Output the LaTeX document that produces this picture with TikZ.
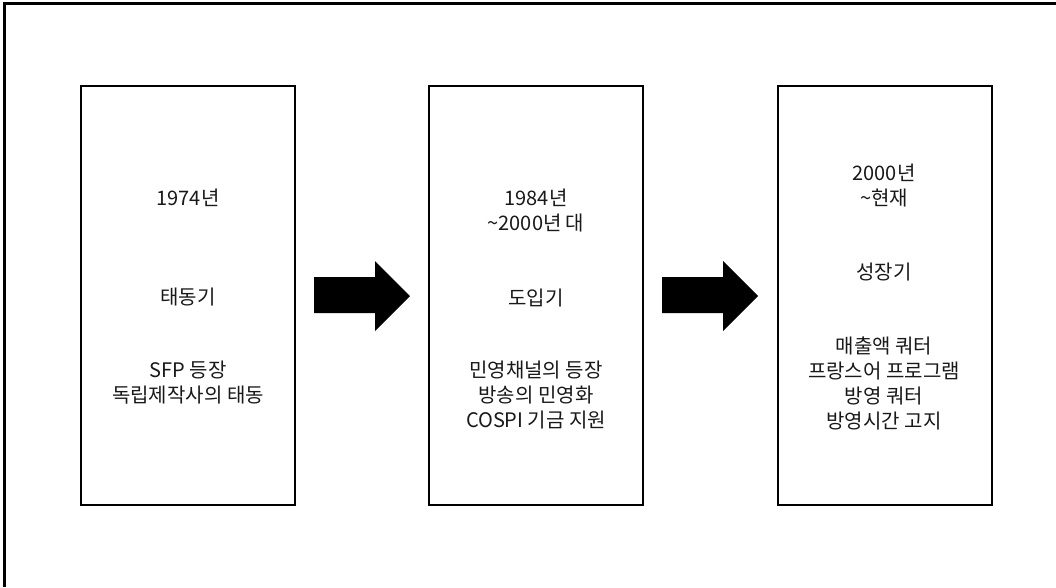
\documentclass[tikz,border=0pt]{standalone}
\usepackage{fontspec}
\setmainfont{Noto Sans CJK KR}
\begin{document}
\begin{tikzpicture}[x=1pt,y=-1pt,
  stage/.style={draw=black,line width=2pt,fill=white},
  txt/.style={align=center,font=\fontsize{20}{25}\selectfont,inner sep=0pt,text=black!90},
  blockarrow/.style={fill=black,draw=none}]
\useasboundingbox (0,0) rectangle (1056,587);
\fill[white] (0,0) rectangle (1056,587);
% outer frame (top and left only visible)
\draw[line width=3pt] (4.5,587) -- (4.5,3) -- (1056,3);
% boxes
\draw[stage] (81,86) rectangle (295,505);
\draw[stage] (429,86) rectangle (643,505);
\draw[stage] (778,86) rectangle (992,505);
% arrows
\fill[blockarrow] (314,277) -- (375,277) -- (375,261) -- (410,296) -- (375,331) -- (375,313) -- (314,313) -- cycle;
\fill[blockarrow] (662,277) -- (723,277) -- (723,261) -- (758,296) -- (723,331) -- (723,313) -- (662,313) -- cycle;
% box 1 text
\node[txt] (a1) at (188,198) {1974년};
\node[txt] (a2) at (188,297) {태동기};
\node[txt] (a3) at (188,382.5) {SFP 등장\\독립제작사의 태동};
% box 2 text
\node[txt] (b1) at (536,211) {1984년\\{\textasciitilde}2000년 대};
\node[txt] (b2) at (536,298) {도입기};
\node[txt] (b3) at (536,395) {민영채널의 등장\\방송의 민영화\\COSPI 기금 지원};
% box 3 text
\node[txt] (c1) at (884,185.5) {2000년\\{\textasciitilde}현재};
\node[txt] (c2) at (884,272) {성장기};
\node[txt] (c3) at (884,383.5) {매출액 쿼터\\프랑스어 프로그램\\방영 쿼터\\방영시간 고지};
\end{tikzpicture}
\end{document}
